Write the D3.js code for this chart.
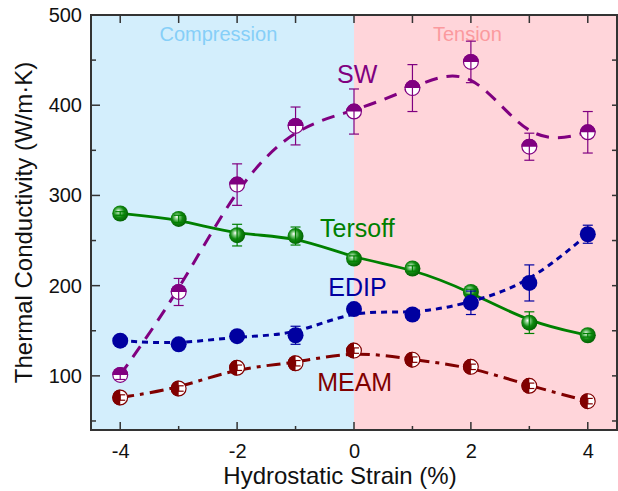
<!DOCTYPE html>
<html>
<head>
<meta charset="utf-8">
<script src="https://cdn.jsdelivr.net/npm/d3@7"></script>
<style>
  html, body { margin: 0; padding: 0; background: #fff; }
  svg { display: block; font-family: "Liberation Sans", Arial, sans-serif; }
</style>
</head>
<body>
<div id="chart"></div>
<script>
const strain = [-4, -3, -2, -1, 0, 1, 2, 3, 4];

const swValues = [101, 193, 312, 377, 393, 419, 448, 354, 370];
const swErr = [5, 15, 23, 21, 25, 26, 23, 15, 23];

const tersoffValues = [280, 274, 256, 255, 230, 219, 193, 159, 145];
const tersoffErr = [2, 4, 12, 10, 3, 3, 3, 12, 2];

const edipValues = [139, 135, 144, 145, 174, 168, 181, 203, 257];
const edipErr = [2, 2, 3, 10, 6, 2, 13, 20, 10];

const meamValues = [76, 86, 109, 114, 128, 118, 110, 89, 72];
const meamErr = [3, 3, 3, 3, 3, 3, 3, 3, 3];

const xTicks = [-4, -2, 0, 2, 4];
const yTicks = [100, 200, 300, 400, 500];

const width = 618, height = 491;
const margin = { top: 15, right: 1, bottom: 61, left: 91 };

const svg = d3.select("#chart").append("svg")
  .attr("width", width)
  .attr("height", height);

const x = d3.scaleLinear().domain([-4.5, 4.5]).range([margin.left, width - margin.right]);
const y = d3.scaleLinear().domain([40, 500]).range([height - margin.bottom, margin.top]);

const defs = svg.append("defs");
const grad = defs.append("radialGradient")
  .attr("id", "ball")
  .attr("cx", "45%").attr("cy", "45%").attr("r", "60%")
  .attr("fx", "38%").attr("fy", "36%");
grad.append("stop").attr("offset", "0%").attr("stop-color", "#ffffff");
grad.append("stop").attr("offset", "22%").attr("stop-color", "#8fd08f");
grad.append("stop").attr("offset", "55%").attr("stop-color", "#118a11");
grad.append("stop").attr("offset", "100%").attr("stop-color", "#005a00");

defs.append("clipPath").attr("id", "plot")
  .append("rect")
  .attr("x", x(-4.5)).attr("y", y(500))
  .attr("width", x(4.5) - x(-4.5)).attr("height", y(40) - y(500));

// regions
svg.append("rect")
  .attr("x", x(-4.5)).attr("y", y(500))
  .attr("width", x(0) - x(-4.5)).attr("height", y(40) - y(500))
  .attr("fill", "#d3eefc");
svg.append("rect")
  .attr("x", x(0)).attr("y", y(500))
  .attr("width", x(4.5) - x(0)).attr("height", y(40) - y(500))
  .attr("fill", "#ffd5da");

svg.append("text")
  .attr("x", x(-2.32)).attr("y", y(471))
  .attr("text-anchor", "middle")
  .attr("font-size", 20)
  .attr("fill", "#86cff8")
  .text("Compression");
svg.append("text")
  .attr("x", x(1.94)).attr("y", y(471))
  .attr("text-anchor", "middle")
  .attr("font-size", 20)
  .attr("fill", "#fb9a9e")
  .text("Tension");

const series = [
  { name: "SW", values: swValues, err: swErr, color: "#800080", dash: "13,9", width: 3, marker: "top" },
  { name: "Tersoff", values: tersoffValues, err: tersoffErr, color: "#008000", dash: null, width: 2.8, marker: "ball" },
  { name: "EDIP", values: edipValues, err: edipErr, color: "#0000a0", dash: "6,5", width: 3, marker: "solid" },
  { name: "MEAM", values: meamValues, err: meamErr, color: "#800000", dash: "14,6,4,6", width: 3, marker: "left" }
];

const line = d3.line()
  .x((d) => x(d[0]))
  .y((d) => y(d[1]))
  .curve(d3.curveBasis);

const plot = svg.append("g").attr("clip-path", "url(#plot)");

// lines
series.forEach((s) => {
  plot.append("path")
    .datum(strain.map((v, i) => [v, s.values[i]]))
    .attr("fill", "none")
    .attr("stroke", s.color)
    .attr("stroke-width", s.width)
    .attr("stroke-dasharray", s.dash)
    .attr("d", line);
});

const r = 8;
const halfArc = d3.arc().innerRadius(0).outerRadius(r);

// markers + error bars
series.forEach((s) => {
  const g = plot.append("g");
  strain.forEach((v, i) => {
    const cx = x(v), cy = y(s.values[i]);
    const m = g.append("g").attr("transform", `translate(${cx},${cy})`);
    if (s.marker === "ball") {
      m.append("circle").attr("r", r).attr("fill", "url(#ball)");
    } else if (s.marker === "solid") {
      m.append("circle").attr("r", r).attr("fill", s.color);
    } else {
      m.append("circle").attr("r", r - 0.6).attr("fill", "#fff");
      const start = s.marker === "top" ? -Math.PI / 2 : Math.PI;
      m.append("path")
        .attr("d", halfArc({ startAngle: start, endAngle: start + Math.PI }))
        .attr("fill", s.color);
      m.append("circle").attr("r", r - 0.6).attr("fill", "none")
        .attr("stroke", s.color).attr("stroke-width", 1.2);
    }
    const e = s.err[i];
    const y1 = y(s.values[i] + e), y2 = y(s.values[i] - e);
    const eb = g.append("g").attr("stroke", s.color).attr("stroke-width", 1.2);
    eb.append("line").attr("x1", cx).attr("x2", cx).attr("y1", y1).attr("y2", y2);
    eb.append("line").attr("x1", cx - 5).attr("x2", cx + 5).attr("y1", y1).attr("y2", y1);
    eb.append("line").attr("x1", cx - 5).attr("x2", cx + 5).attr("y1", y2).attr("y2", y2);
  });
});

// series labels
const labelPos = { SW: [-0.29, 425], Tersoff: [-0.58, 254], EDIP: [-0.44, 189], MEAM: [-0.63, 83] };
series.forEach((s) => {
  svg.append("text")
    .attr("x", x(labelPos[s.name][0]))
    .attr("y", y(labelPos[s.name][1]))
    .attr("font-size", 25)
    .attr("fill", s.color)
    .text(s.name);
});

// axes
const axisColor = "#333";
const x0 = x(-4.5), x1 = x(4.5), yb = y(40), yt = y(500);
const plain = (d) => String(d);

const bottom = svg.append("g").attr("transform", `translate(0,${yb})`)
  .call(d3.axisBottom(x).tickValues(xTicks).tickSize(0).tickPadding(14).tickFormat(plain));
bottom.select(".domain").remove();
bottom.selectAll("text").attr("font-size", 20).attr("fill", "#111")
  .style("font-family", "'Liberation Sans', Arial, sans-serif");

const left = svg.append("g").attr("transform", `translate(${x0},0)`)
  .call(d3.axisLeft(y).tickValues(yTicks).tickSize(0).tickPadding(9).tickFormat(plain));
left.select(".domain").remove();
left.selectAll("text").attr("font-size", 20).attr("fill", "#111")
  .style("font-family", "'Liberation Sans', Arial, sans-serif");

const ticks = svg.append("g").attr("stroke", axisColor).attr("stroke-width", 1.5);
d3.range(-4, 5).forEach((v) => {
  const len = v % 2 === 0 ? 8 : 4;
  ticks.append("line").attr("x1", x(v)).attr("x2", x(v)).attr("y1", yb).attr("y2", yb - len);
  ticks.append("line").attr("x1", x(v)).attr("x2", x(v)).attr("y1", yt).attr("y2", yt + 8);
});
d3.range(50, 500, 50).forEach((v) => {
  const len = v % 100 === 0 ? 9 : 5;
  ticks.append("line").attr("x1", x0).attr("x2", x0 + len).attr("y1", y(v)).attr("y2", y(v));
  ticks.append("line").attr("x1", x1).attr("x2", x1 - 5).attr("y1", y(v)).attr("y2", y(v));
});

svg.append("rect")
  .attr("x", x0).attr("y", yt)
  .attr("width", x1 - x0).attr("height", yb - yt)
  .attr("fill", "none")
  .attr("stroke", axisColor)
  .attr("stroke-width", 2);

svg.append("text")
  .attr("x", (x0 + x1) / 2 - 14)
  .attr("y", 484)
  .attr("text-anchor", "middle")
  .attr("font-size", 24)
  .attr("fill", "#111")
  .text("Hydrostatic Strain (%)");

svg.append("text")
  .attr("transform", `translate(32,${(yt + yb) / 2}) rotate(-90)`)
  .attr("text-anchor", "middle")
  .attr("font-size", 24)
  .attr("fill", "#111")
  .text("Thermal Conductivity (W/m·K)");
</script>
</body>
</html>
